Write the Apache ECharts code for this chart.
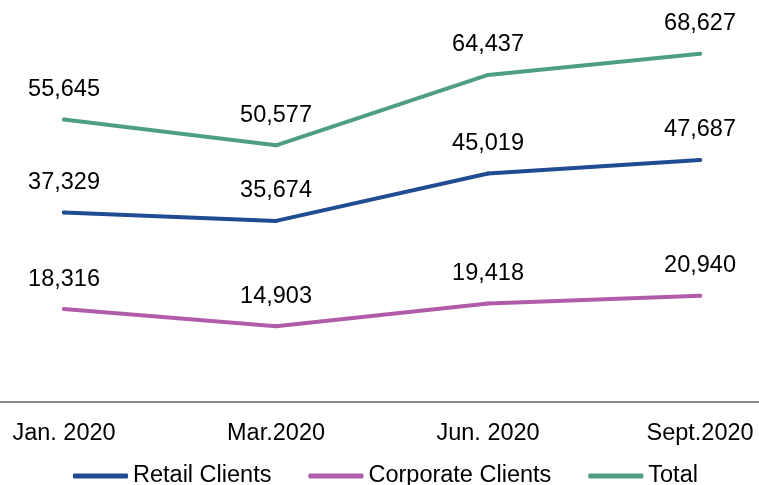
<!DOCTYPE html>
<html>
<head>
<meta charset="utf-8">
<script src="https://cdn.jsdelivr.net/npm/echarts@6/dist/echarts.min.js"></script>
<style>
  html, body { margin: 0; padding: 0; background: #fff; }
  #chart { width: 759px; height: 485px; }
</style>
</head>
<body>
<div id="chart"></div>
<script>
// Client counts per reporting period
const periods = ['Jan. 2020', 'Mar.2020', 'Jun. 2020', 'Sept.2020'];
const retailClients = [37329, 35674, 45019, 47687];
const corporateClients = [18316, 14903, 19418, 20940];
const totalClients = [55645, 50577, 64437, 68627];

const FONT = '"Liberation Sans", Arial, sans-serif';
const FS = 23.5;

function pairs(values) {
  return values.map((v, i) => [i, v]);
}

function lineSeries(name, values, color) {
  return {
    name: name,
    type: 'line',
    data: pairs(values),
    symbol: 'circle',
    symbolSize: 4,
    itemStyle: { color: color },
    lineStyle: { color: color, width: 4, cap: 'round', join: 'round' },
    label: {
      show: true,
      position: 'top',
      distance: 16,
      color: '#000',
      fontFamily: FONT,
      fontSize: FS,
      formatter: p => p.value[1].toLocaleString('en-US')
    },
    emphasis: { disabled: true },
    animation: false
  };
}

const chart = echarts.init(document.getElementById('chart'), null, { renderer: 'canvas' });
chart.setOption({
  backgroundColor: '#ffffff',
  animation: false,
  grid: { left: 0, right: 0, top: 1, bottom: 83, containLabel: false },
  xAxis: {
    type: 'value',
    min: -0.3019,
    max: 3.278,
    axisLine: { show: true, onZero: false, lineStyle: { color: '#8a8a8a', width: 2 } },
    axisTick: { show: false },
    splitLine: { show: false },
    axisLabel: {
      customValues: [0, 1, 2, 3],
      formatter: v => periods[Math.round(v)],
      color: '#000',
      fontFamily: FONT,
      fontSize: FS,
      margin: 20
    }
  },
  yAxis: {
    type: 'value',
    min: 0,
    max: 79000,
    show: false,
    splitLine: { show: false }
  },
  legend: {
    top: 464,
    left: 73,
    padding: 0,
    itemGap: 37,
    itemWidth: 55,
    itemHeight: 5,
    icon: 'roundRect',
    textStyle: { color: '#000', fontFamily: FONT, fontSize: FS },
    data: ['Retail Clients', 'Corporate Clients', 'Total']
  },
  series: [
    lineSeries('Retail Clients', retailClients, '#214B93'),
    lineSeries('Corporate Clients', corporateClients, '#B15CAA'),
    lineSeries('Total', totalClients, '#4E9E85')
  ]
});
</script>
</body>
</html>
